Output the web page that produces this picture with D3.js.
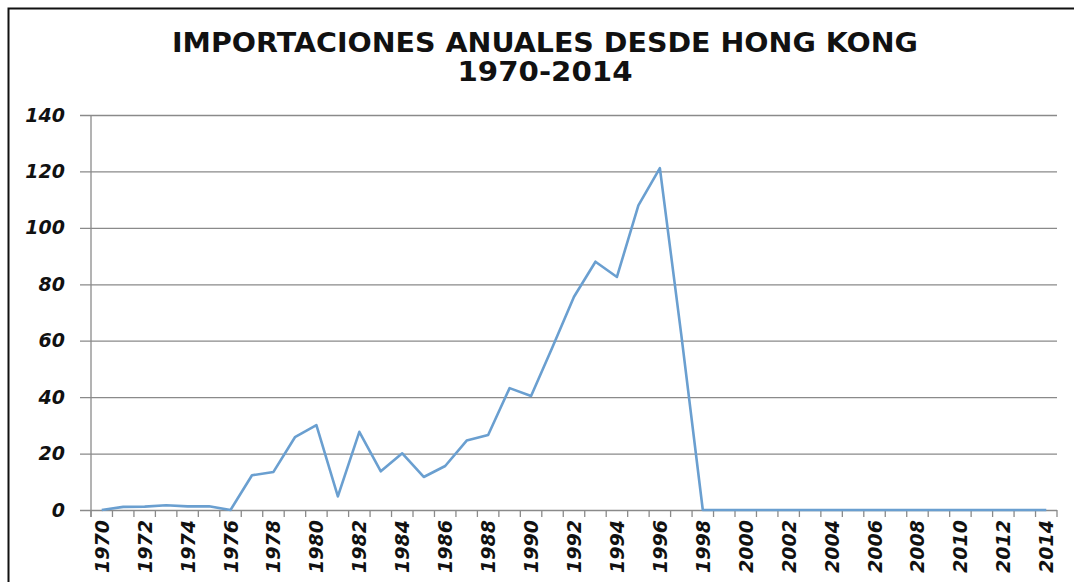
<!DOCTYPE html>
<html>
<head>
<meta charset="utf-8">
<script src="https://cdnjs.cloudflare.com/ajax/libs/d3/7.8.5/d3.min.js"></script>
<style>
  body { margin: 0; background: #fff; }
  svg { display: block; }
</style>
</head>
<body>
<svg id="chart" width="1074" height="582"></svg>
<script>
// Years on the category axis
const years = d3.range(1970, 2015).map(String);
// Annual imports
const imports = [
  0, 1.1, 1.2, 1.7, 1.3, 1.3, 0, 12.3, 13.5, 25.8,
  30.1, 4.8, 27.7, 13.7, 20.1, 11.7, 15.6, 24.6, 26.6, 43.2,
  40.4, 57.8, 75.6, 88, 82.6, 108, 121.2, 62, 0, 0,
  0, 0, 0, 0, 0, 0, 0, 0, 0, 0,
  0, 0, 0, 0, 0
];
const yTicks = [0, 20, 40, 60, 80, 100, 120, 140];
const xLabels = years.filter((d, i) => i % 2 === 0);
const titleLines = ["IMPORTACIONES ANUALES DESDE HONG KONG", "1970-2014"];
const titleWidths = [746, 175];

const svg = d3.select("#chart");
const plotLeft = 91, plotRight = 1057, plotTop = 115, plotBottom = 510;

// Outer frame (only top and left edges show in the picture)
svg.append("rect")
  .attr("x", 8.5).attr("y", 8.5)
  .attr("width", 1200).attr("height", 800)
  .attr("fill", "none")
  .attr("stroke", "#111")
  .attr("stroke-width", 2);

// Title
svg.append("g").selectAll("text")
  .data(titleLines)
  .enter()
  .append("text")
  .attr("x", 545)
  .attr("y", (d, i) => 52 + i * 29)
  .attr("text-anchor", "middle")
  .attr("textLength", (d, i) => titleWidths[i])
  .attr("lengthAdjust", "spacingAndGlyphs")
  .style("font-family", "'DejaVu Sans', Verdana, sans-serif")
  .style("font-weight", "bold")
  .style("font-size", "26px")
  .style("fill", "#111")
  .text(d => d);

const x = d3.scaleBand().domain(years).range([plotLeft, plotRight]).padding(0);
const y = d3.scaleLinear().domain([0, 140]).range([plotBottom, plotTop]);

// Gridlines + y labels
const yAxis = svg.append("g")
  .attr("transform", `translate(${plotLeft},0)`)
  .call(d3.axisLeft(y).tickValues(yTicks).tickSize(-(plotRight - plotLeft)).tickPadding(26));
yAxis.select(".domain").remove();
yAxis.selectAll(".tick line")
  .attr("x1", -11)
  .attr("stroke", "#8a8a8a")
  .attr("stroke-width", 1.3);
yAxis.selectAll(".tick text")
  .style("font-family", "'DejaVu Sans', Verdana, sans-serif")
  .style("font-weight", "bold")
  .style("font-style", "italic")
  .style("font-size", "19px")
  .style("fill", "#111");

// Left axis line
svg.append("line")
  .attr("x1", plotLeft).attr("x2", plotLeft)
  .attr("y1", plotTop).attr("y2", plotBottom + 7)
  .attr("stroke", "#8a8a8a")
  .attr("stroke-width", 1.3);

// Category boundary ticks on x axis
const bounds = years.map(d => x(d)).concat([plotRight]);
svg.append("g").selectAll("line")
  .data(bounds)
  .enter()
  .append("line")
  .attr("x1", d => d).attr("x2", d => d)
  .attr("y1", plotBottom).attr("y2", plotBottom + 7)
  .attr("stroke", "#8a8a8a")
  .attr("stroke-width", 1.3);

// Year labels, rotated
svg.append("g").selectAll("text")
  .data(xLabels)
  .enter()
  .append("text")
  .attr("transform", d => `translate(${x(d) + x.bandwidth() / 2 + 7},520) rotate(-90)`)
  .attr("text-anchor", "end")
  .style("font-family", "'DejaVu Sans', Verdana, sans-serif")
  .style("font-weight", "bold")
  .style("font-style", "italic")
  .style("font-size", "19px")
  .style("fill", "#111")
  .text(d => d);

// Data line
const line = d3.line()
  .x((d, i) => x(years[i]) + x.bandwidth() / 2)
  .y(d => y(d));

svg.append("path")
  .datum(imports)
  .attr("d", line)
  .attr("fill", "none")
  .attr("stroke", "#6a9fd0")
  .attr("stroke-width", 2.6)
  .attr("stroke-linejoin", "round");
</script>
</body>
</html>
